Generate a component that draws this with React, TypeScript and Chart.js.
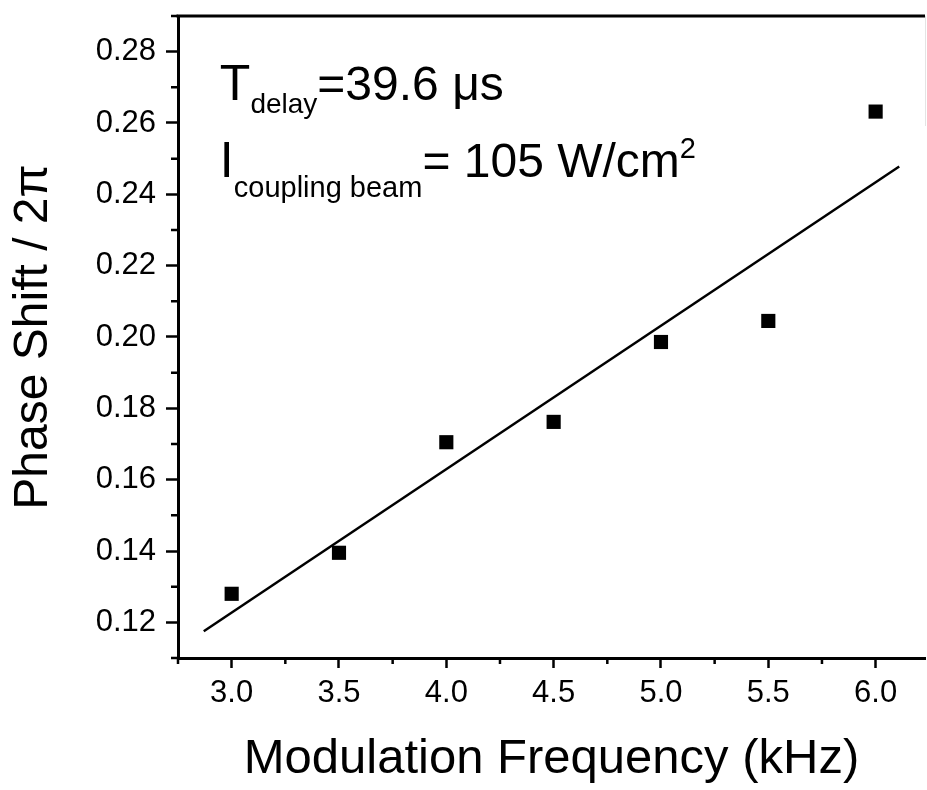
import React, { useEffect, useRef } from "react";
import { Chart, registerables } from "chart.js";

Chart.register(...registerables);

// ---- data ----
const frequencies = [3.0, 3.5, 4.0, 4.5, 5.0, 5.5, 6.0];
const phaseShifts = [0.128, 0.1395, 0.1705, 0.1762, 0.1986, 0.2045, 0.2632];
const fitX = [2.87, 6.11];
const fitY = [0.1175, 0.2478];

const xTicks = [3.0, 3.5, 4.0, 4.5, 5.0, 5.5, 6.0];
const xMinorTicks = [2.75, 3.25, 3.75, 4.25, 4.75, 5.25, 5.75];
const yTicks = [0.12, 0.14, 0.16, 0.18, 0.2, 0.22, 0.24, 0.26, 0.28];
const yMinorTicks = [0.11, 0.13, 0.15, 0.17, 0.19, 0.21, 0.23, 0.25, 0.27, 0.29];

const xTitle = "Modulation Frequency (kHz)";
const yTitle = "Phase Shift / 2\u03C0";

// annotation text runs (text, size, baseline shift) anchored at data coords
const line1Anchor = [2.945, 0.2665];
const line1Runs = [
  { text: "T", size: 50, dy: 0 },
  { text: "delay", size: 28, dy: 13 },
  { text: "=39.6 \u03BCs", size: 48, dy: 0 },
];
const line2Anchor = [2.945, 0.2449];
const line2Runs = [
  { text: "I", size: 50, dy: 0 },
  { text: "coupling beam", size: 29, dy: 20 },
  { text: "= 105 W/cm", size: 48, dy: 0 },
  { text: "2", size: 29, dy: -19 },
];

const FAMILY = "'Liberation Sans', Arial, Helvetica, sans-serif";

const framePlugin = {
  id: "frameAndText",
  afterDraw(chart: any) {
    const { ctx, chartArea, scales } = chart;
    const xs = scales.x;
    const ys = scales.y;
    ctx.save();
    ctx.strokeStyle = "#000";
    ctx.lineWidth = 2.5;
    // minor ticks
    ctx.beginPath();
    for (const v of yMinorTicks) {
      const p = ys.getPixelForValue(v);
      ctx.moveTo(chartArea.left - 7, p);
      ctx.lineTo(chartArea.left, p);
    }
    for (const v of xMinorTicks) {
      const p = xs.getPixelForValue(v);
      ctx.moveTo(p, chartArea.bottom);
      ctx.lineTo(p, chartArea.bottom + 6);
    }
    ctx.stroke();
    // top frame line
    ctx.lineWidth = 3;
    ctx.beginPath();
    ctx.moveTo(chartArea.left - 1.5, chartArea.top);
    ctx.lineTo(chartArea.right, chartArea.top);
    ctx.stroke();
    // faint right edge
    ctx.strokeStyle = "#e4e4e4";
    ctx.lineWidth = 1;
    ctx.beginPath();
    ctx.moveTo(chartArea.right + 0.5, chartArea.top);
    ctx.lineTo(chartArea.right + 0.5, chartArea.top + 110);
    ctx.stroke();

    // annotation text
    ctx.fillStyle = "#000";
    ctx.textAlign = "left";
    ctx.textBaseline = "alphabetic";
    const drawRuns = (runs: any[], anchor: number[]) => {
      let cx = xs.getPixelForValue(anchor[0]);
      const by = ys.getPixelForValue(anchor[1]);
      for (const r of runs) {
        ctx.font = `${r.size}px ${FAMILY}`;
        ctx.fillText(r.text, cx, by + r.dy);
        cx += ctx.measureText(r.text).width;
      }
    };
    drawRuns(line1Runs, line1Anchor);
    drawRuns(line2Runs, line2Anchor);
    ctx.restore();
  },
};

export default function App() {
  const ref = useRef<HTMLCanvasElement | null>(null);

  useEffect(() => {
    if (!ref.current) return;
    const chart = new Chart(ref.current, {
      type: "scatter",
      data: {
        datasets: [
          {
            label: "data",
            data: frequencies.map((f, i) => ({ x: f, y: phaseShifts[i] })),
            pointStyle: "rect",
            pointRadius: 10,
            pointBorderWidth: 0,
            backgroundColor: "#000",
            borderColor: "#000",
          },
          {
            label: "fit",
            data: fitX.map((f, i) => ({ x: f, y: fitY[i] })),
            showLine: true,
            pointRadius: 0,
            borderColor: "#000",
            borderWidth: 2.5,
          },
        ],
      },
      options: {
        animation: false,
        responsive: false,
        events: [],
        layout: { autoPadding: false, padding: { top: 16, right: 2, bottom: 0, left: 0 } },
        plugins: {
          legend: { display: false },
          tooltip: { enabled: false },
        },
        scales: {
          x: {
            type: "linear",
            min: 2.75,
            max: 6.23,
            afterBuildTicks: (s: any) => {
              s.ticks = xTicks.map((v) => ({ value: v }));
            },
            afterFit: (s: any) => {
              s.height = 132;
              s.paddingLeft = 0;
              s.paddingRight = 0;
              s.paddingTop = 0;
              s.paddingBottom = 0;
            },
            grid: {
              drawOnChartArea: false,
              drawTicks: true,
              tickLength: 10,
              tickWidth: 2.5,
              tickColor: "#000",
            },
            border: { display: true, color: "#000", width: 3 },
            ticks: {
              color: "#000",
              padding: 7,
              maxRotation: 0,
              font: { family: FAMILY, size: 31 },
              callback: (v: any) => Number(v).toFixed(1),
            },
            title: {
              display: true,
              text: xTitle,
              color: "#000",
              font: { family: FAMILY, size: 49 },
              padding: { top: 0, bottom: 1 },
            },
          },
          y: {
            type: "linear",
            min: 0.11,
            max: 0.29,
            afterBuildTicks: (s: any) => {
              s.ticks = yTicks.map((v) => ({ value: v }));
            },
            afterFit: (s: any) => {
              s.width = 178;
              s.paddingLeft = 0;
              s.paddingRight = 0;
              s.paddingTop = 0;
              s.paddingBottom = 0;
            },
            grid: {
              drawOnChartArea: false,
              drawTicks: true,
              tickLength: 12,
              tickWidth: 2.5,
              tickColor: "#000",
            },
            border: { display: true, color: "#000", width: 3 },
            ticks: {
              color: "#000",
              padding: 10,
              font: { family: FAMILY, size: 31 },
              callback: (v: any) => Number(v).toFixed(2),
            },
            title: {
              display: true,
              text: yTitle,
              color: "#000",
              font: { family: FAMILY, size: 48 },
              padding: { top: 5, bottom: 0 },
            },
          },
        },
      },
      plugins: [framePlugin],
    } as any);
    return () => chart.destroy();
  }, []);

  return (
    <div style={{ position: "absolute", left: 0, top: 0, width: 927, height: 790, background: "#fff" }}>
      <canvas ref={ref} width={927} height={790} style={{ display: "block" }} />
    </div>
  );
}
